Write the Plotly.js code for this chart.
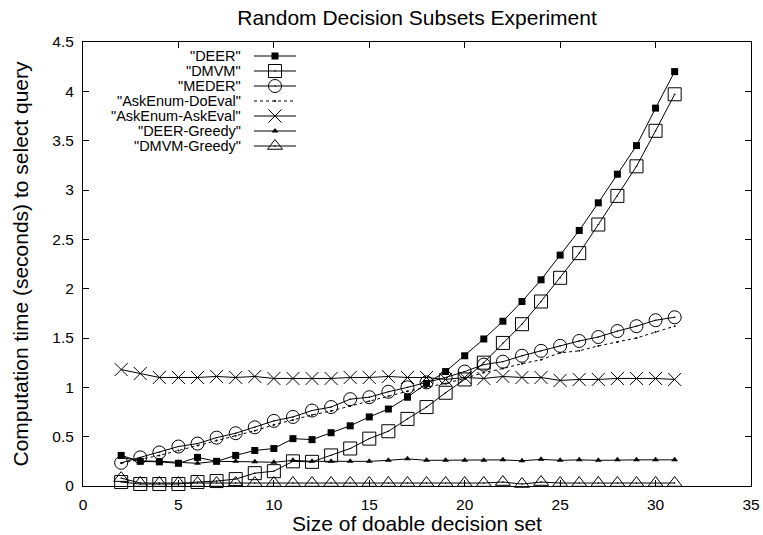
<!DOCTYPE html>
<html>
<head>
<meta charset="utf-8">
<script src="https://cdn.plot.ly/plotly-3.0.1.min.js"></script>
<style>
  html, body { margin: 0; padding: 0; background: #ffffff; }
  #chart { width: 763px; height: 535px; }
</style>
</head>
<body>
<div id="chart"></div>
<script>
// Size of the doable decision set (x) and query-selection times in seconds (y)
const setSize = [2, 3, 4, 5, 6, 7, 8, 9, 10, 11, 12, 13, 14, 15, 16, 17,
                 18, 19, 20, 21, 22, 23, 24, 25, 26, 27, 28, 29, 30, 31];

const deer = [0.31, 0.25, 0.245, 0.23, 0.29, 0.25, 0.31, 0.36, 0.38, 0.48, 0.47,
              0.54, 0.61, 0.70, 0.78, 0.90, 1.04, 1.16, 1.32, 1.49, 1.67, 1.87,
              2.09, 2.34, 2.59, 2.87, 3.16, 3.45, 3.83, 4.20];

const dmvm = [0.04, 0.02, 0.02, 0.02, 0.04, 0.05, 0.07, 0.13, 0.15, 0.25, 0.245,
              0.31, 0.38, 0.48, 0.555, 0.68, 0.80, 0.945, 1.08, 1.25, 1.45, 1.64,
              1.87, 2.11, 2.36, 2.65, 2.94, 3.24, 3.60, 3.97];

const meder = [0.235, 0.29, 0.34, 0.40, 0.43, 0.49, 0.535, 0.595, 0.66, 0.70, 0.765,
               0.80, 0.88, 0.90, 0.955, 1.00, 1.05, 1.10, 1.16, 1.23, 1.26, 1.32,
               1.37, 1.42, 1.47, 1.51, 1.57, 1.62, 1.68, 1.71];

const askEnumDoEval = [0.23, 0.27, 0.31, 0.36, 0.41, 0.46, 0.51, 0.56, 0.62, 0.67, 0.72,
                       0.76, 0.81, 0.86, 0.91, 0.96, 1.00, 1.04, 1.09, 1.15, 1.19, 1.24,
                       1.28, 1.35, 1.37, 1.42, 1.46, 1.50, 1.56, 1.62];

const askEnumAskEval = [1.18, 1.14, 1.10, 1.10, 1.10, 1.11, 1.10, 1.11, 1.09, 1.09, 1.09,
                        1.09, 1.10, 1.10, 1.11, 1.10, 1.10, 1.08, 1.10, 1.09, 1.11, 1.10,
                        1.10, 1.07, 1.08, 1.08, 1.09, 1.09, 1.09, 1.08];

const deerGreedy = [0.29, 0.255, 0.25, 0.24, 0.23, 0.25, 0.25, 0.245, 0.24, 0.26, 0.25,
                    0.25, 0.25, 0.25, 0.26, 0.275, 0.26, 0.26, 0.26, 0.26, 0.265, 0.255,
                    0.27, 0.26, 0.265, 0.26, 0.265, 0.265, 0.265, 0.265];

const dmvmGreedy = [0.08, 0.03, 0.03, 0.03, 0.03, 0.03, 0.03, 0.03, 0.03, 0.03, 0.03,
                    0.03, 0.03, 0.03, 0.03, 0.03, 0.03, 0.03, 0.03, 0.03, 0.04, 0.02,
                    0.04, 0.03, 0.03, 0.03, 0.03, 0.03, 0.03, 0.03];

const seriesNames = ['"DEER"', '"DMVM"', '"MEDER"', '"AskEnum-DoEval"',
                     '"AskEnum-AskEval"', '"DEER-Greedy"', '"DMVM-Greedy"'];
const seriesValues = [deer, dmvm, meder, askEnumDoEval, askEnumAskEval, deerGreedy, dmvmGreedy];

const xTickVals = [0, 5, 10, 15, 20, 25, 30, 35];
const yTickVals = [0, 0.5, 1, 1.5, 2, 2.5, 3, 3.5, 4, 4.5];

// gnuplot-like point/line styles, one per series
const styles = [
  { symbol: 'square',               size: 7,  dash: 'solid', filled: true },
  { symbol: 'square-open-dot',      size: 13, dash: 'solid', filled: false },
  { symbol: 'circle-open-dot',      size: 13, dash: 'solid', filled: false },
  { symbol: 'circle',               size: 2,  dash: 'dot',   filled: true },
  { symbol: 'x-thin-open',          size: 13, dash: 'solid', filled: false },
  { symbol: 'triangle-up',          size: 6,  dash: 'solid', filled: true },
  { symbol: 'triangle-up-open-dot', size: 13, dash: 'solid', filled: false }
];

const FONT = 'Liberation Sans, Arial, Helvetica, sans-serif';

// page geometry of the plotting area (px)
const M = { l: 83, r: 12, t: 42, b: 49 };
const W = 763, H = 535;
const plotTop = M.t, plotBottom = H - M.b, plotLeft = M.l, plotRight = W - M.r;

// key block placed in page-pixel units on an overlay axis pair
const KEY = { textRight: 243, lineFrom: 254, lineTo: 296, firstRow: 56, rowStep: 15, fontSize: 14.5 };

function markerFor(st) {
  return st.filled
    ? { symbol: st.symbol, size: st.size, color: '#000000', line: { width: 0 } }
    : { symbol: st.symbol, size: st.size, color: '#000000', line: { color: '#000000', width: 1 } };
}

const traces = [];
seriesValues.forEach((vals, i) => {
  const st = styles[i];
  traces.push({
    type: 'scatter',
    x: setSize,
    y: vals,
    name: seriesNames[i],
    mode: 'lines+markers',
    line: { color: '#000000', width: 1, dash: st.dash },
    marker: markerFor(st),
    cliponaxis: false,
    showlegend: false,
    hoverinfo: 'skip'
  });
});

// key entries: a short sample line with the series point in its middle
const annotations = [];
seriesNames.forEach((name, i) => {
  const st = styles[i];
  const yRow = KEY.firstRow + i * KEY.rowStep;
  traces.push({
    type: 'scatter', xaxis: 'x2', yaxis: 'y2',
    x: [KEY.lineFrom, KEY.lineTo], y: [yRow, yRow],
    mode: 'lines',
    line: { color: '#000000', width: 1, dash: st.dash },
    showlegend: false, hoverinfo: 'skip', cliponaxis: false
  });
  traces.push({
    type: 'scatter', xaxis: 'x2', yaxis: 'y2',
    x: [(KEY.lineFrom + KEY.lineTo) / 2], y: [yRow],
    mode: 'markers',
    marker: markerFor(st),
    showlegend: false, hoverinfo: 'skip', cliponaxis: false
  });
  annotations.push({
    xref: 'x2', yref: 'y2', x: KEY.textRight, y: yRow,
    xanchor: 'right', yanchor: 'middle', showarrow: false,
    text: name, font: { family: FONT, size: KEY.fontSize, color: '#000000' }
  });
});

const axisCommon = {
  showgrid: false,
  zeroline: false,
  showline: true,
  linecolor: '#000000',
  linewidth: 1,
  mirror: 'ticks',
  ticks: 'inside',
  ticklen: 6,
  tickwidth: 1,
  tickcolor: '#000000',
  tickfont: { family: FONT, size: 15.5, color: '#000000' },
  fixedrange: true
};

const layout = {
  width: W,
  height: H,
  margin: { l: M.l, r: M.r, t: M.t, b: M.b, pad: 0 },
  paper_bgcolor: '#ffffff',
  plot_bgcolor: '#ffffff',
  showlegend: false,
  font: { family: FONT, color: '#000000' },
  title: {
    text: 'Random Decision Subsets Experiment',
    font: { family: FONT, size: 21, color: '#000000' },
    xref: 'paper', x: 0.5, xanchor: 'center',
    yref: 'container', y: 1 - 18 / H, yanchor: 'middle'
  },
  xaxis: Object.assign({}, axisCommon, {
    range: [0, 35],
    tickmode: 'array',
    tickvals: xTickVals,
    ticklabelstandoff: 4,
    title: { text: 'Size of doable decision set', font: { family: FONT, size: 21, color: '#000000' }, standoff: 11 }
  }),
  yaxis: Object.assign({}, axisCommon, {
    range: [0, 4.5],
    tickmode: 'array',
    tickvals: yTickVals,
    ticklabelstandoff: 5,
    title: { text: 'Computation time (seconds) to select query', font: { family: FONT, size: 21, color: '#000000' }, standoff: 17 }
  }),
  xaxis2: { overlaying: 'x', range: [plotLeft, plotRight], visible: false, fixedrange: true },
  yaxis2: { overlaying: 'y', range: [plotBottom, plotTop], visible: false, fixedrange: true },
  annotations: annotations
};

Plotly.newPlot('chart', traces, layout, { staticPlot: true, displayModeBar: false });
</script>
</body>
</html>
